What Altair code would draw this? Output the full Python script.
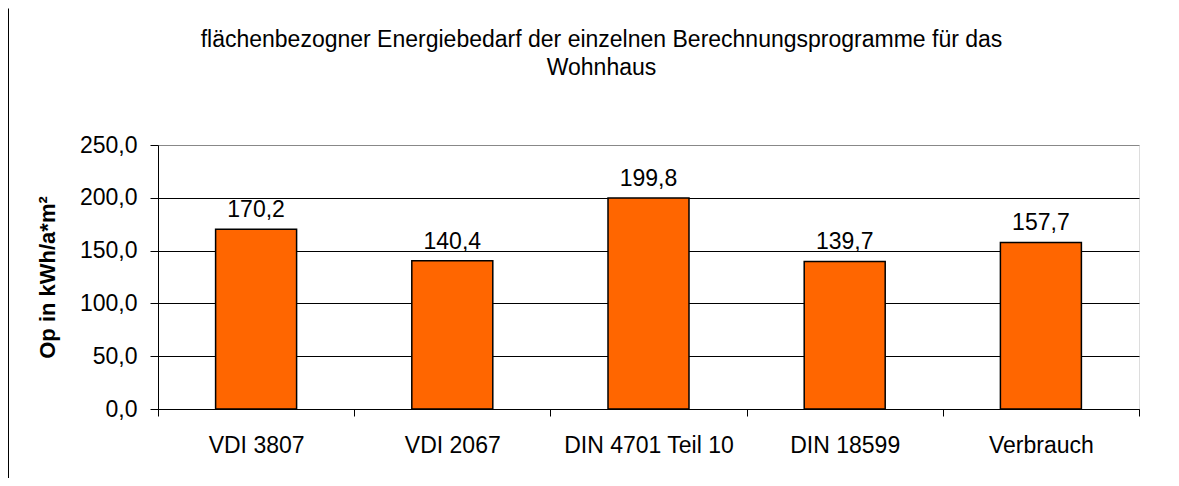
import altair as alt
import pandas as pd

categories = ["VDI 3807", "VDI 2067", "DIN 4701 Teil 10", "DIN 18599", "Verbrauch"]
values = [170.2, 140.4, 199.8, 139.7, 157.7]
y_ticks = [0, 50, 100, 150, 200, 250]

df = pd.DataFrame({"cat": categories, "value": values})

FONT = "Liberation Sans"
FS = 23

x_enc = alt.X(
    "cat:N",
    sort=categories,
    scale=alt.Scale(paddingInner=0, paddingOuter=0),
    axis=alt.Axis(
        title=None,
        labelAngle=0,
        labelFont=FONT,
        labelFontSize=FS,
        labelColor="black",
        labelBaseline="middle",
        labelPadding=29,
        tickSize=7,
        tickColor="black",
        tickBand="extent",
        domainColor="black",
        grid=False,
    ),
)
y_enc = alt.Y(
    "value:Q",
    scale=alt.Scale(domain=[0, 250], nice=False),
    axis=alt.Axis(
        title="Op in kWh/a*m²",
        titleFont=FONT,
        titleFontSize=22,
        titleFontWeight="bold",
        titleColor="black",
        titleX=-111,
        titleY=132,
        titleAngle=-90,
        titleAlign="center",
        titleBaseline="middle",
        values=y_ticks,
        labelExpr="replace(format(datum.value, '.1f'), '.', ',')",
        labelFont=FONT,
        labelFontSize=FS,
        labelColor="black",
        labelPadding=13,
        tickSize=8,
        tickColor="black",
        domainColor="black",
        grid=True,
        gridColor={"condition": {"test": "datum.value >= 250", "value": "#888888"}, "value": "#000000"},
        gridWidth=1,
    ),
)

base = alt.Chart(df)
bars = base.mark_bar(size=81, color="#FF6600", stroke="black", strokeWidth=1.5).encode(x=x_enc, y=y_enc)
labels = base.transform_calculate(
    label="replace(format(datum.value, '.1f'), '.', ',')"
).mark_text(font=FONT, fontSize=FS, color="black", baseline="middle", dy=-19).encode(
    x=alt.X("cat:N", sort=categories), y="value:Q", text="label:N"
)

one = alt.Chart(pd.DataFrame({"a": [0]}))
frame_left = one.mark_rule(color="black", strokeWidth=1).encode(
    x=alt.value(-149.5), y=alt.value(-136.5), y2=alt.value(333)
)

chart = alt.layer(bars, labels, frame_left).properties(
    width=981,
    height=264,
    autosize=alt.AutoSizeParams(type="none"),
    padding={"left": 150, "top": 137, "right": 32, "bottom": 69},
    title=alt.TitleParams(
        text=["flächenbezogner Energiebedarf der einzelnen Berechnungsprogramme für das", "Wohnhaus"],
        font=FONT,
        fontSize=FS,
        fontWeight="normal",
        color="black",
        anchor="middle",
        frame="group",
        baseline="bottom",
        dx=-47,
        offset=-95,
        lineHeight=28,
    ),
).configure_view(stroke="#888888", strokeWidth=1).configure(background="white")

chart.save("out.html", embed_options={"renderer": "svg", "actions": False})
